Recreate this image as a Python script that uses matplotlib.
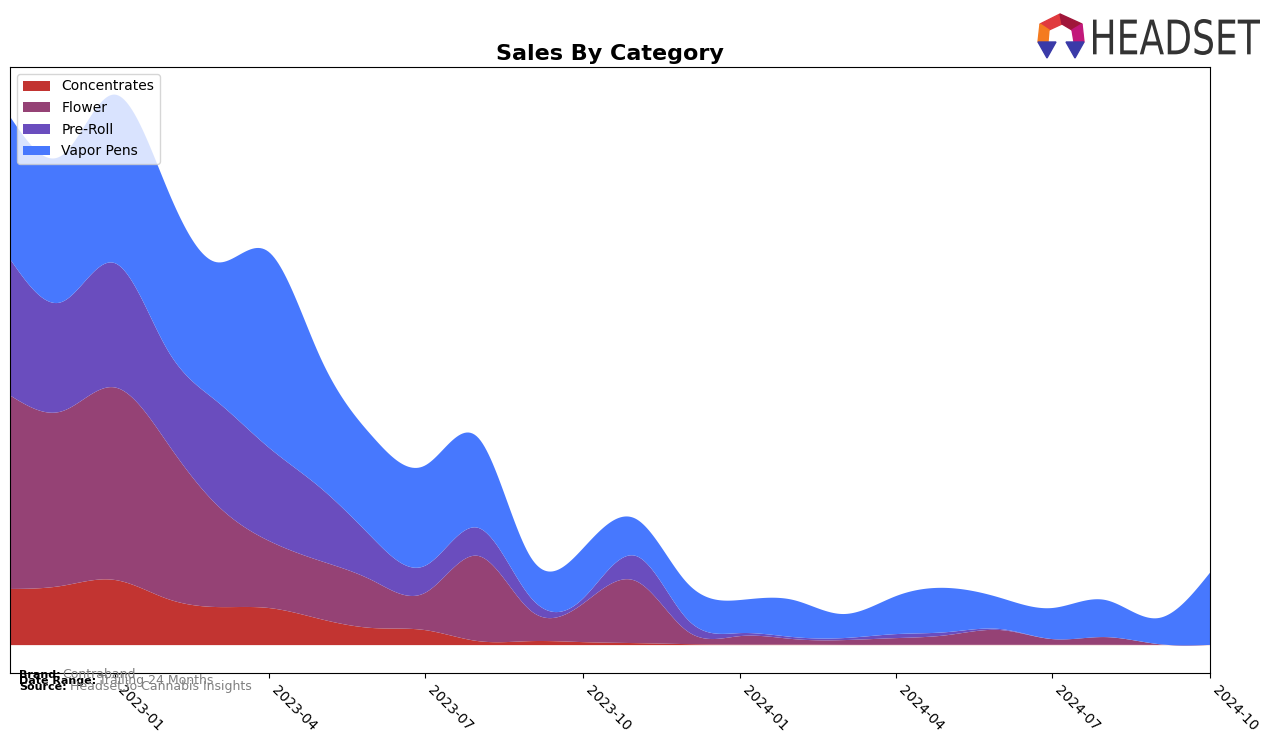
import numpy as np
import pandas as pd
import matplotlib
matplotlib.use("Agg")
import matplotlib.pyplot as plt
import matplotlib.dates as mdates
from matplotlib.patches import Polygon, PathPatch
from matplotlib.textpath import TextPath
from matplotlib.font_manager import FontProperties
from matplotlib.transforms import Affine2D, IdentityTransform

# monthly sales (arbitrary units)
months = pd.date_range("2022-11-01", "2024-10-01", freq="MS")
concentrates = [56, 59, 65, 46, 38, 37, 26, 17, 15, 4, 4, 3, 2, 1, 0.5, 0.5,
                0.3, 0.3, 0.3, 0.3, 0.3, 0.3, 0.2, 0.2]
flower = [193, 174, 192, 155, 103, 67, 58, 47, 37, 85, 30, 38, 62, 13, 8.5, 5.5,
          4.7, 6.7, 9.7, 14.7, 5.7, 7.7, 0.8, 0]
pre_roll = [136, 109, 124, 93, 103, 93, 73, 42, 27, 28, 13, 5, 25, 12, 3, 2,
            2, 4, 3, 1, 0, 0, 0, 0]
vapor_pens = [142, 146, 168, 160, 138, 195, 130, 101, 100, 90, 40, 50, 37, 36, 33, 37,
              24, 38, 44, 31, 31, 37, 26, 72]

categories = ["Concentrates", "Flower", "Pre-Roll", "Vapor Pens"]
colors = ["#c23431", "#954275", "#6a4dbe", "#4778fe"]


def spline(x, y, xs):
    # natural cubic spline
    x = np.asarray(x, float)
    y = np.asarray(y, float)
    n = len(x)
    h = np.diff(x)
    A = np.zeros((n, n))
    b = np.zeros(n)
    for i in range(1, n - 1):
        A[i, i - 1] = h[i - 1]
        A[i, i] = 2 * (h[i - 1] + h[i])
        A[i, i + 1] = h[i]
        b[i] = 6 * ((y[i + 1] - y[i]) / h[i] - (y[i] - y[i - 1]) / h[i - 1])
    A[0, 0] = 1
    A[-1, -1] = 1
    M = np.linalg.solve(A, b)
    idx = np.clip(np.searchsorted(x, xs) - 1, 0, n - 2)
    x0, x1 = x[idx], x[idx + 1]
    hh = x1 - x0
    return (M[idx] * (x1 - xs) ** 3 / (6 * hh) + M[idx + 1] * (xs - x0) ** 3 / (6 * hh)
            + (y[idx] / hh - M[idx] * hh / 6) * (x1 - xs)
            + (y[idx + 1] / hh - M[idx + 1] * hh / 6) * (xs - x0))


xn = mdates.date2num(months)
xs = np.linspace(xn[0], xn[-1], 600)
smooth = [spline(xn, s, xs) for s in [concentrates, flower, pre_roll, vapor_pens]]

fig = plt.figure(figsize=(12.76, 7.43), dpi=100)
ax = fig.add_axes([10 / 1276, 70 / 743, 1200 / 1276, 606 / 743])
ax.stackplot(mdates.num2date(xs), *smooth, labels=categories, colors=colors)

ax.set_xlim(months[0], months[-1])
ax.set_yticks([])
ticks = pd.date_range("2023-01-01", "2024-10-01", freq="QS")
ax.set_xticks(ticks)
ax.set_xticklabels([t.strftime("%Y-%m") for t in ticks], rotation=-45,
                   ha="left", fontsize=10)
ax.set_title("Sales By Category", fontsize=16, fontweight="bold", pad=5)
ax.legend(loc="upper left", fontsize=10, labelspacing=0.55)

# footer
def foot(y, label, lx, value):
    fig.text(19 / 1276, 1 - y / 743, label, fontsize=8, fontweight="bold", va="baseline")
    fig.text(lx / 1276, 1 - y / 743, value, fontsize=9, color="grey", va="baseline")


foot(678, "Brand:", 62, "Contraband")
foot(684, "Date Range:", 99, "Trailing 24 Months")
foot(690, "Source:", 70, "Headset.io Cannabis Insights")

# logo
H = 743


def px(pts):
    return [(x, H - y) for x, y in pts]


logo = [
    ([(1040, 24), (1060, 14), (1062, 24), (1049, 30)], "#e03a3e"),
    ([(1060, 14), (1082, 24), (1072, 30), (1062, 24)], "#a0163a"),
    ([(1040, 24), (1049, 30), (1048, 42), (1038, 42)], "#f47b20"),
    ([(1082, 24), (1084, 42), (1074, 42), (1072, 30)], "#c2187a"),
    ([(1038, 42), (1056, 42), (1047, 58)], "#3a3aa8"),
    ([(1066, 42), (1084, 42), (1075, 58)], "#3a3aa8"),
]
for pts, c in logo:
    fig.add_artist(Polygon(px(pts), closed=True, color=c, transform=IdentityTransform()))

tp = TextPath((0, 0), "HEADSET", size=100, prop=FontProperties(family="DejaVu Sans"))
bb = tp.get_extents()
sx = (1260 - 1093) / bb.width
sy = (55 - 19) / bb.height
tr = Affine2D().translate(-bb.x0, -bb.y0).scale(sx, sy).translate(1093, H - 55)
fig.add_artist(PathPatch(tr.transform_path(tp), color="#333333", lw=0,
                         transform=IdentityTransform()))

fig.savefig("out.png", dpi=100)
